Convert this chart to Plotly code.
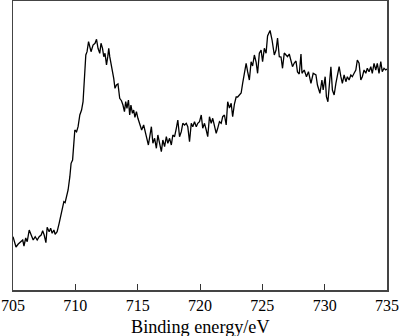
import plotly.graph_objects as go

# Binding energy (eV)
energy = [705.00, 705.24, 705.42, 705.64, 705.78, 705.88, 706.02, 706.14, 706.30, 706.46,
          706.62, 706.78, 706.94, 707.10, 707.26, 707.38, 707.50, 707.64, 707.74, 707.90,
          708.02, 708.14, 708.28, 708.38, 708.54, 708.70, 708.82, 708.98, 709.08, 709.18,
          709.30, 709.42, 709.56, 709.66, 709.78, 709.88, 709.96, 710.10, 710.22, 710.36,
          710.50, 710.62, 710.74, 710.84, 710.94, 711.06, 711.16, 711.26, 711.42, 711.58,
          711.70, 711.82, 711.96, 712.06, 712.18, 712.28, 712.38, 712.50, 712.60, 712.68,
          712.76, 712.86, 712.98, 713.08, 713.18, 713.30, 713.42, 713.56, 713.70, 713.82,
          713.94, 714.04, 714.14, 714.26, 714.36, 714.46, 714.58, 714.68, 714.78, 714.90,
          715.02, 715.16, 715.32, 715.48, 715.58, 715.70, 715.86, 715.96, 716.10, 716.22,
          716.36, 716.50, 716.62, 716.76, 716.90, 717.02, 717.16, 717.30, 717.42, 717.56,
          717.70, 717.82, 717.96, 718.10, 718.22, 718.36, 718.50, 718.62, 718.76, 718.90,
          719.02, 719.16, 719.30, 719.42, 719.56, 719.70, 719.82, 719.96, 720.10, 720.22,
          720.36, 720.50, 720.62, 720.76, 720.90, 721.02, 721.16, 721.30, 721.42, 721.56,
          721.70, 721.82, 721.96, 722.10, 722.22, 722.36, 722.50, 722.62, 722.76, 722.90,
          723.02, 723.30, 723.42, 723.56, 723.70, 723.82, 723.96, 724.10, 724.22, 724.36,
          724.50, 724.62, 724.76, 724.90, 725.02, 725.16, 725.30, 725.42, 725.62, 725.78,
          725.96, 726.10, 726.22, 726.36, 726.50, 726.62, 726.76, 726.90, 727.02, 727.16,
          727.30, 727.42, 727.56, 727.70, 727.82, 727.96, 728.10, 728.18, 728.36, 728.54,
          728.70, 728.90, 729.08, 729.30, 729.42, 729.62, 729.78, 729.88, 730.04, 730.14,
          730.26, 730.36, 730.50, 730.62, 730.76, 730.90, 731.02, 731.16, 731.30, 731.42,
          731.56, 731.70, 731.82, 731.96, 732.10, 732.22, 732.36, 732.50, 732.62, 732.76,
          732.90, 733.02, 733.16, 733.30, 733.42, 733.56, 733.70, 733.82, 733.96, 734.10,
          734.22, 734.36, 734.50, 734.62, 734.76, 734.90, 735.00]

# Intensity (arbitrary units)
intensity = [53.3, 43.0, 46.0, 48.3, 50.0, 44.0, 52.0, 48.3, 60.0, 55.0,
             50.0, 53.3, 50.0, 53.3, 55.0, 59.3, 55.0, 47.3, 62.7, 58.3,
             61.7, 56.7, 60.0, 55.7, 58.3, 66.7, 73.3, 83.3, 88.3, 87.3,
             93.3, 100.0, 113.3, 126.7, 130.0, 148.0, 160.0, 158.3, 163.3, 175.0,
             180.0, 188.3, 216.7, 235.0, 238.3, 248.3, 243.3, 238.3, 245.0, 246.7,
             250.7, 241.7, 236.7, 246.7, 241.7, 233.3, 236.7, 225.0, 233.3, 241.7,
             233.3, 226.7, 221.7, 211.7, 201.7, 205.0, 206.0, 191.7, 189.3, 185.0,
             178.3, 188.3, 181.7, 190.0, 175.0, 185.0, 176.7, 180.0, 172.7, 178.3,
             171.7, 165.0, 160.0, 165.0, 158.3, 153.3, 145.0, 153.3, 163.3, 146.7,
             151.7, 141.7, 155.0, 146.7, 138.3, 150.0, 143.3, 153.3, 146.7, 151.7,
             145.0, 155.0, 153.3, 161.7, 170.0, 153.3, 158.3, 166.7, 165.0, 166.7,
             163.3, 148.3, 166.7, 163.3, 168.3, 163.3, 166.7, 168.3, 175.0, 161.7,
             166.7, 160.0, 153.3, 173.3, 166.7, 171.7, 163.3, 156.7, 161.7, 168.3,
             166.7, 173.3, 175.0, 165.0, 188.3, 182.0, 186.7, 173.3, 186.0, 193.0,
             193.0, 197.0, 206.7, 215.0, 226.7, 218.3, 210.0, 228.3, 224.0, 235.0,
             228.0, 216.7, 236.7, 240.0, 228.3, 241.7, 236.7, 254.0, 259.5, 250.0,
             235.0, 240.0, 252.0, 233.3, 233.0, 221.7, 237.0, 235.0, 233.3, 236.0,
             228.0, 223.3, 227.0, 229.0, 218.0, 216.0, 236.0, 216.7, 220.0, 213.3,
             218.3, 206.7, 216.7, 215.0, 205.0, 196.7, 210.0, 200.0, 213.3, 193.3,
             188.3, 203.3, 223.3, 200.0, 195.0, 206.7, 213.3, 223.3, 213.3, 206.7,
             215.0, 208.3, 213.3, 210.0, 215.0, 213.3, 216.7, 220.0, 230.0, 226.7,
             210.0, 213.3, 220.0, 216.7, 221.7, 218.3, 223.3, 216.7, 226.7, 220.0,
             226.7, 216.7, 228.3, 218.3, 221.7, 220.0, 221.0]

x_ticks = [705, 710, 715, 720, 725, 730, 735]
x_title = "Binding energy/eV"

FONT = "Times New Roman, serif"

fig = go.Figure()
fig.add_trace(go.Scatter(
    x=energy, y=intensity, mode="lines",
    line=dict(color="black", width=1.3),
    hoverinfo="skip", showlegend=False,
))

fig.update_layout(
    width=400, height=336,
    margin=dict(l=13, r=13, t=1, b=46, autoexpand=False),
    paper_bgcolor="white", plot_bgcolor="white",
    font=dict(family=FONT, size=16, color="black"),
    annotations=[dict(
        text=x_title, xref="paper", yref="paper", x=0.5, y=0,
        yshift=-37, yanchor="middle", xanchor="center", showarrow=False,
        font=dict(family=FONT, size=18.2, color="black"),
    )],
)
fig.update_xaxes(
    range=[705, 735], tickvals=x_ticks, ticktext=[str(t) for t in x_ticks],
    ticks="inside", ticklen=6, tickwidth=1, tickcolor="#333",
    showline=True, linecolor="#444", linewidth=1.5, mirror=True,
    showgrid=False, zeroline=False, automargin=False,
    tickfont=dict(family=FONT, size=16),
)
fig.update_yaxes(
    range=[0, 289], showticklabels=False, ticks="",
    showline=True, linecolor="#444", linewidth=1.5, mirror=True,
    showgrid=False, zeroline=False, automargin=False,
)

fig.write_html(
    "out.html",
    config={"displayModeBar": False, "staticPlot": True},
    post_script="document.body.style.margin='0';document.body.style.overflow='hidden';",
)
